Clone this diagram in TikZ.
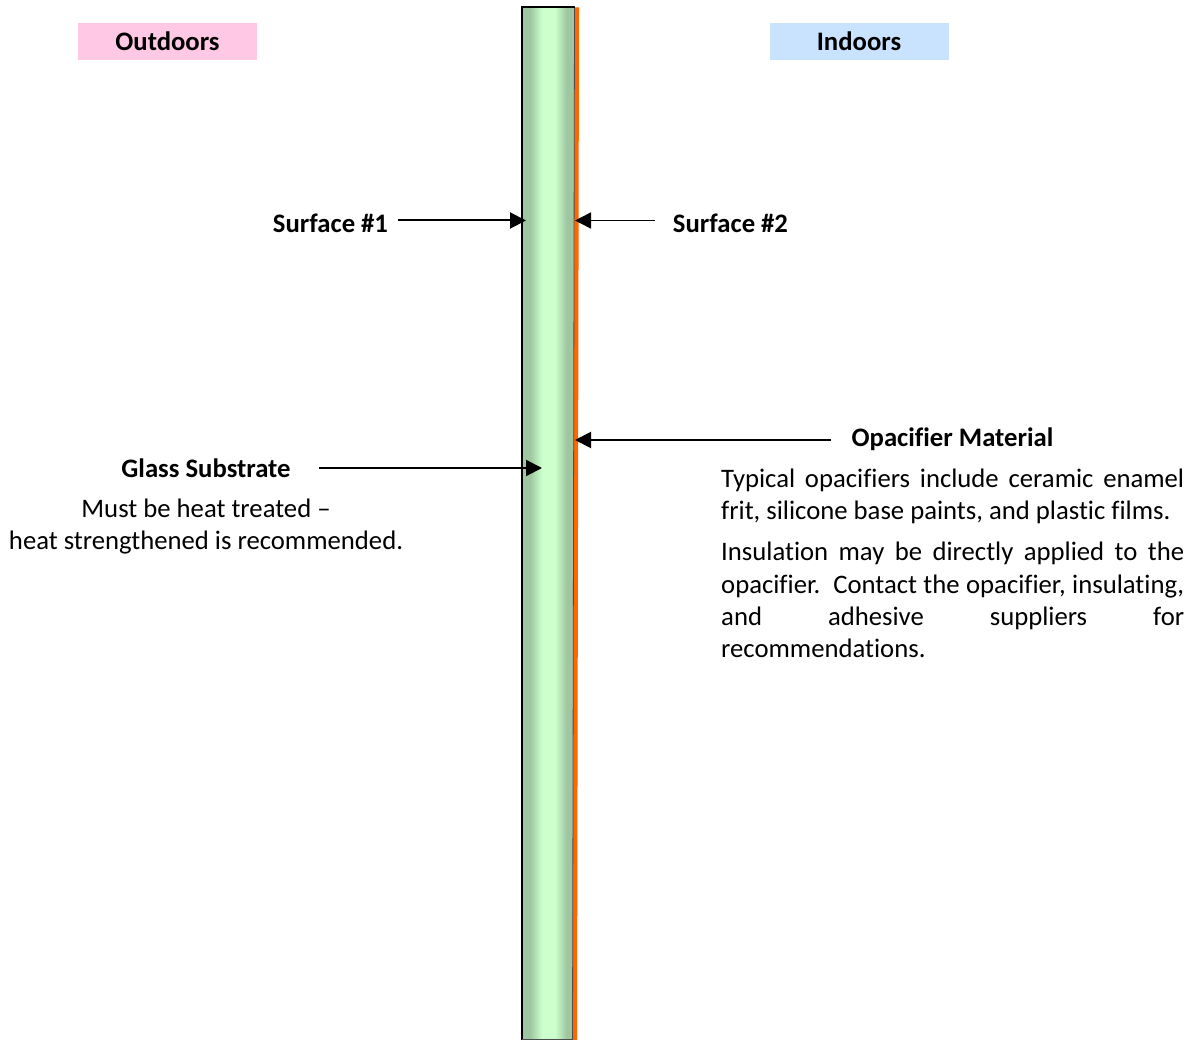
\documentclass[tikz,border=0pt]{standalone}
\usepackage{fontspec}
\setmainfont[Ligatures=NoCommon]{Carlito}
\usetikzlibrary{arrows.meta}
\definecolor{pinktag}{RGB}{255,200,228}
\definecolor{bluetag}{RGB}{201,227,255}
\definecolor{opacorange}{RGB}{255,102,0}
\definecolor{glassedge}{RGB}{158,198,160}
\definecolor{glassmid}{RGB}{204,255,204}
\pgfdeclarehorizontalshading{glassshade}{100bp}{
  color(0bp)=(glassedge); color(25bp)=(glassedge); color(32.5bp)=(glassedge);
  color(44bp)=(glassmid); color(56.5bp)=(glassmid); color(67.5bp)=(glassedge);
  color(75bp)=(glassedge); color(100bp)=(glassedge)}
\tikzset{
  lbl/.style={font=\fontsize{26.7}{32}\selectfont\bfseries, inner sep=0pt, anchor=center},
  tag/.style={lbl, minimum height=37, minimum width=179},
  body/.style={font=\fontsize{26.7}{32.4}\selectfont, inner sep=0pt, anchor=north west, text width=463, align=justify},
  arr/.style={draw=black, line width=2, -{Triangle[length=16,width=16]}},
  arrthin/.style={draw=black, line width=1.5, -{Triangle[length=16,width=16]}}
}
\begin{document}
\begin{tikzpicture}[x=1pt,y=-1pt]
\useasboundingbox (0,0) rectangle (1193,1040);
\fill[white] (0,0) rectangle (1193,1040);
\node[tag, fill=pinktag] (outdoors) at (167.5,41.5) {Outdoors};
\node[tag, fill=bluetag] (indoors) at (859,41.5) {Indoors};
\fill[opacorange] (574,7.5) -- (579,7.5) -- (577,1040) -- (572,1040) -- cycle;
\path[shading=glassshade] (522,7.5) -- (574.5,7.5) -- (572.5,1040) -- (522,1040) -- cycle;
\draw[black!70, line width=0.8] (572.5,1040) -- (574.5,7.5);
\draw[black, line width=2] (575,7.5) -- (521.5,7.5) -- (521.5,1040);
\draw[black!70, line width=1.5] (521.5,1039.5) -- (572.5,1039.5);
\coordinate (s1) at (526,220.5);
\coordinate (s2) at (575,220.5);
\coordinate (op) at (575,440);
\coordinate (gl) at (542,468);
\node[lbl] (surf1) at (330.5,223) {Surface \#1};
\node[lbl] (surf2) at (730.5,223) {Surface \#2};
\node[lbl] (opac) at (952.5,439) {Opacifier Material};
\node[lbl] (glass) at (206,468) {Glass Substrate};
\coordinate (a1) at (398,220.5);
\coordinate (a2) at (655,220.5);
\coordinate (a3) at (831,440);
\coordinate (a4) at (319,468);
\draw[arr] (a1) -- (s1);
\draw[arrthin] (a2) -- (s2);
\draw[arr] (a3) -- (op);
\draw[arr] (a4) -- (gl);
\node[font=\fontsize{26.7}{32.4}\selectfont, inner sep=0pt, align=center] (glassnote) at (206,526.5) {Must be heat treated --\\heat strengthened is recommended.};
\node[body] (n1) at (721,468.5) {Typical opacifiers include ceramic enamel\linebreak frit, silicone base paints, and plastic films.};
\node[body] (n2) at (721,542) {Insulation may be directly applied to the\linebreak opacifier.\ \ Contact the opacifier, insulating,\linebreak and adhesive suppliers for\linebreak recommendations.};
\end{tikzpicture}
\end{document}
